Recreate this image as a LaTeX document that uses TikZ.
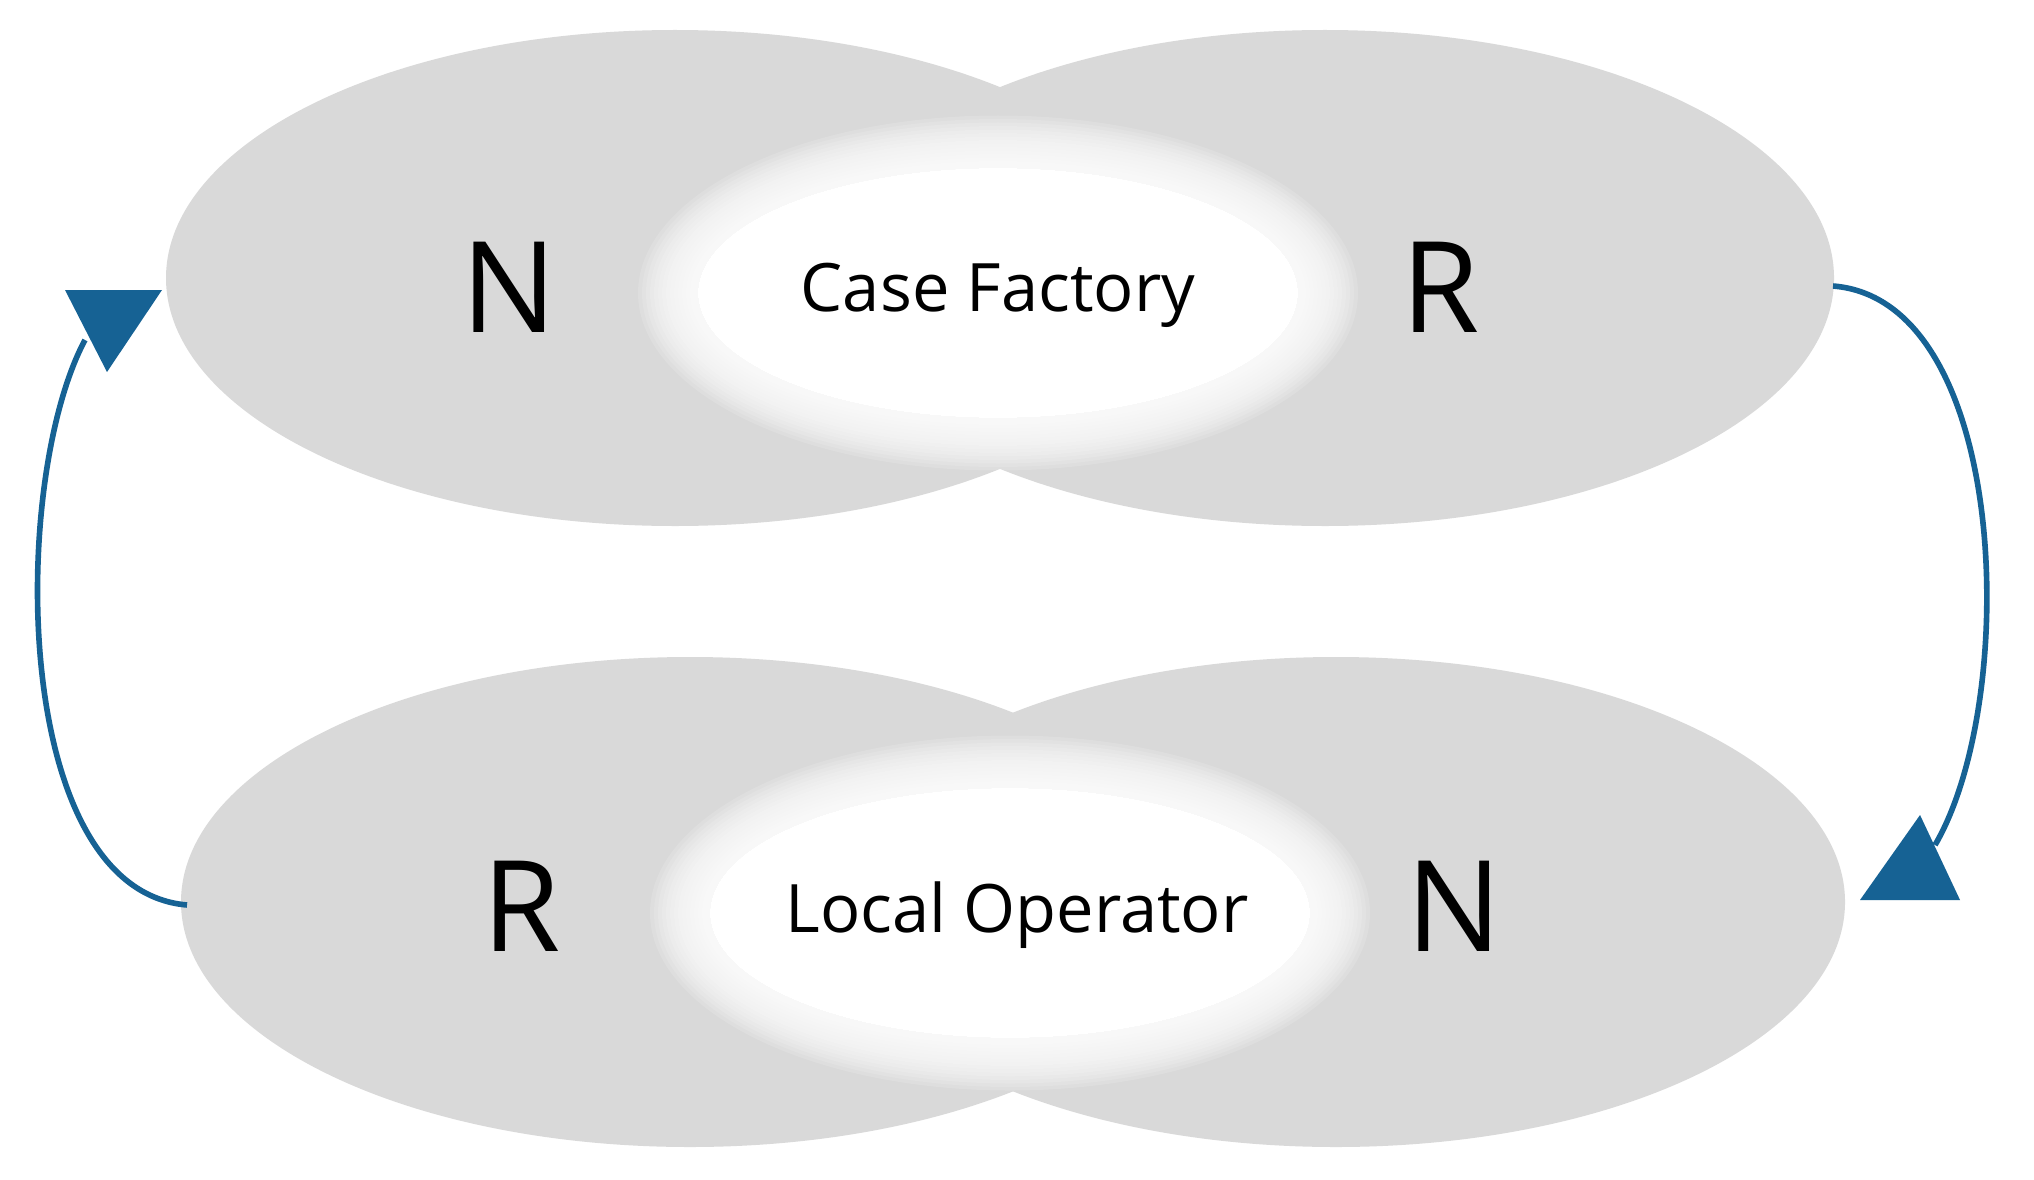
\documentclass[tikz,border=0pt]{standalone}
\usepackage{fontspec}
\setmainfont{Open Sans}
\definecolor{g}{RGB}{217,217,217}
\definecolor{bl}{RGB}{22,98,148}
\begin{document}
\begin{tikzpicture}[x=0.01cm,y=-0.01cm,
  blob/.style={fill=g},
  big/.style={font=\fontsize{36}{40}\selectfont},
  lab/.style={font=\fontsize{19}{22}\selectfont},
  arr/.style={draw=bl,line width=1.6pt},
  tip/.style={fill=bl}]
\useasboundingbox (0,0) rectangle (2034,1179);
\fill[white] (0,0) rectangle (2034,1179);
% top pair
\fill[blob] (675,278) ellipse [x radius=509,y radius=248];
\fill[blob] (1325,278) ellipse [x radius=509,y radius=248];
\begin{scope}
\clip (675,278) ellipse [x radius=509,y radius=248] (1325,278) ellipse [x radius=509,y radius=248];
\fill[white] (998,293) ellipse [x radius=300,y radius=125];
\foreach \i in {0,...,15}
  \fill[white,opacity=0.14] (998,293) ellipse [x radius={300+4*\i},y radius={125+3.5*\i}];
\end{scope}
% bottom pair
\fill[blob] (690,902) ellipse [x radius=509,y radius=245];
\fill[blob] (1336,902) ellipse [x radius=509,y radius=245];
\begin{scope}
\clip (690,902) ellipse [x radius=509,y radius=245] (1336,902) ellipse [x radius=509,y radius=245];
\fill[white] (1010,913) ellipse [x radius=300,y radius=125];
\foreach \i in {0,...,15}
  \fill[white,opacity=0.14] (1010,913) ellipse [x radius={300+4*\i},y radius={125+3.5*\i}];
\end{scope}
\node[big] (n1) at (509,287) {N};
\node[big] (r1) at (1441,287) {R};
\node[lab] (cf) at (998,295) {Case Factory};
\node[big] (r2) at (522,906) {R};
\node[big] (n2) at (1454,906) {N};
\node[lab] (lo) at (1017,915) {Local Operator};
\coordinate (a1) at (1833,286);
\coordinate (a2) at (1935,845);
\coordinate (b1) at (187,905);
\coordinate (b2) at (85,340);
\draw[arr] (a1) .. controls (2010,300) and (2020,700) .. (a2);
\fill[tip] (1860,900) -- (1960,900) -- (1920,815) -- cycle;
\draw[arr] (b1) .. controls (10,890) and (10,480) .. (b2);
\fill[tip] (65,290) -- (162,290) -- (107,372) -- cycle;
\end{tikzpicture}
\end{document}
